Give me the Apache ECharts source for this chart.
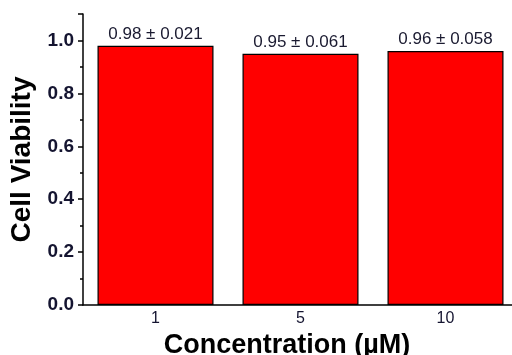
<!DOCTYPE html>
<html>
<head>
<meta charset="utf-8">
<script src="https://cdn.jsdelivr.net/npm/echarts@6/dist/echarts.min.js"></script>
<style>html,body{margin:0;padding:0;background:#fff;}#c{width:512px;height:355px;}</style>
</head>
<body>
<div id="c"></div>
<script>
const categories = ['1', '5', '10'];
const viability = [0.98, 0.95, 0.96];
const stdDev = ['0.021', '0.061', '0.058'];
const yTickLabels = ['0.0', '0.2', '0.4', '0.6', '0.8', '1.0'];

const chart = echarts.init(document.getElementById('c'), null, {renderer: 'canvas'});
chart.setOption({
  animation: false,
  backgroundColor: '#fff',
  grid: {left: 83, top: 14, bottom: 50, width: 435, containLabel: false, outerBoundsMode: 'none'},
  xAxis: {
    type: 'category',
    data: categories,
    boundaryGap: true,
    axisLine: {lineStyle: {color: '#000', width: 1.5}},
    axisTick: {show: false},
    axisLabel: {color: '#141430', fontFamily: 'Liberation Sans', fontSize: 16, margin: 6},
    name: 'Concentration (\u00b5M)',
    nameLocation: 'middle',
    nameGap: 17,
    nameTextStyle: {color: '#000', fontFamily: 'Liberation Sans', fontWeight: 'bold', fontSize: 27, padding: [0, 27, 0, 0]}
  },
  yAxis: {
    type: 'value',
    min: 0, max: 1.1, interval: 0.2,
    axisLine: {show: true, lineStyle: {color: '#000', width: 1.5}},
    axisTick: {show: true, length: 5, inside: false, lineStyle: {color: '#000', width: 1.5}},
    minorTick: {show: true, splitNumber: 2, length: 3, lineStyle: {color: '#000', width: 1.5}},
    splitLine: {show: false},
    axisLabel: {
      color: '#141430', fontFamily: 'Liberation Sans', fontWeight: 'bold', fontSize: 19, margin: 9,
      formatter: function (v) {
        const i = Math.round(v / 0.2);
        return (Math.abs(v - i * 0.2) < 1e-6 && i < yTickLabels.length) ? yTickLabels[i] : '';
      }
    },
    name: 'Cell Viability',
    nameLocation: 'middle',
    nameGap: 45,
    nameRotate: 90,
    nameTextStyle: {color: '#000', fontFamily: 'Liberation Sans', fontWeight: 'bold', fontSize: 28}
  },
  series: [{
    type: 'bar',
    data: viability,
    barCategoryGap: '20%',
    itemStyle: {color: '#ff0000', borderColor: '#000', borderWidth: 1.2},
    label: {
      show: true, position: 'top', distance: 3,
      color: '#1a1a30', fontFamily: 'Liberation Sans', fontSize: 17,
      formatter: function (p) { return p.value.toFixed(2) + ' \u00b1 ' + stdDev[p.dataIndex]; }
    }
  }]
});
</script>
</body>
</html>
